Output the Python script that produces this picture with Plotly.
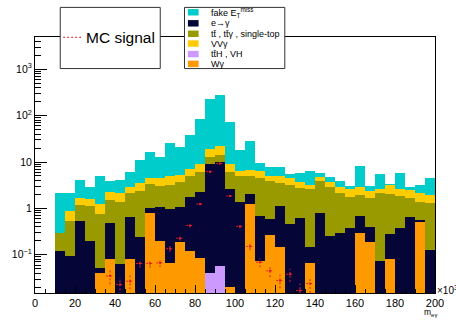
import numpy as np
import plotly.graph_objects as go

# ---------------- data ----------------
bin_low = np.arange(10, 200, 5)          # 38 bins of width 5
bin_width = 5
centers = bin_low + bin_width / 2

# component contributions (stack bottom -> top)
w_gamma = [0, 0, 0, 0, 0.040, 0.082, 0, 0.080, 0, 0.80,
           0.20, 0.065, 0.185, 0.12, 0.085, 0, 0, 0.020, 0, 1.25,
           0.073, 0.266, 0.144, 0, 0, 0.068, 0, 0, 0, 0,
           0.30, 0.19, 0, 0.083, 0, 0, 0.51, 0]
tth_vh = [0, 0, 0, 0, 0, 0, 0, 0, 0, 0,
          0, 0, 0, 0, 0, 0.040, 0.057, 0, 0, 0,
          0, 0, 0, 0, 0, 0, 0, 0, 0, 0,
          0, 0, 0, 0, 0, 0, 0, 0]
e_to_gamma = [0.119, 0.096, 0.53, 0.20, 0.013, 0.398, 0.062, 0.57, 0.245, 0.20,
              0.85, 0.905, 0.865, 1.68, 2.215, 8.96, 10.04, 2.62, 1.38, 0.75,
              0.627, 0.334, 0.996, 0.45, 0.63, 0.080, 0.79, 0.255, 0.30, 0.37,
              0.40, 0.21, 0.073, 0.192, 0.37, 0.65, 0.04, 0.128]
ttbar = [0.181, 0.444, 0.65, 0.95, 0.707, 1.02, 1.278, 1.45, 2.115, 2.43,
         2.05, 2.29, 2.6, 3.08, 3.9, 3.9, 4.2, 3.36, 3.5, 2.9,
         3.8, 3.23, 2.39, 2.81, 2.06, 2.41, 3.04, 2.645, 1.80, 1.42,
         1.20, 1.30, 2.097, 1.795, 1.48, 1.05, 0.79, 1.172]
vv_gamma = [0, 0.34, 0.52, 0.43, 0.51, 0.78, 0.83, 0.80, 1.24, 1.17,
            1.4, 1.84, 1.65, 2.07, 2.9, 6.3, 8.3, 3.0, 1.62, 1.85,
            1.93, 1.27, 1.57, 1.24, 0.96, 0.70, 0.82, 0.80, 0.76, 0.77,
            1.0, 0.66, 0.39, 1.19, 0.71, 0.78, 0.83, 0.64]
fake_met = [1.8, 1.22, 2.35, 1.32, 3.83, 1.62, 1.83, 3.2, 7.4, 11.9,
            8.4, 20.6, 15.5, 31.75, 74.9, 206.8, 253.4, 63.6, 11.8, 21.25,
            3.17, 2.6, 2.6, 1.06, 2.09, 3.04, 1.09, 0.95, 0.97, 0.44,
            5.3, 0.74, 3.0, 0.14, 3.34, 0.38, 1.09, 2.56]

# MC signal points (bins 35-40 ... 135-140)
sig_low = np.arange(35, 140, 5)
sig_val = [0.035, 0.023, 0.027, 0.065, 0.065, 0.067, 0.135, 0.227, 0.43, 1.24,
           6.2, 9.3, 1.85, 0.41, 0.151, 0.069, 0.045, 0.028, 0.038, 0.017, 0.024]
sig_err = [0.012, 0.009, 0.009, 0.012, 0.012, 0.012, 0.02, 0.025, 0.04, 0.08,
           0.25, 0.3, 0.1, 0.04, 0.025, 0.015, 0.012, 0.009, 0.012, 0.007, 0.009]

names = ["Wγ", "tt̄H , VH", "e→γ", "tt̄ , tt̄γ , single-top", "VVγ", "fake E<sub>T</sub><sup>miss</sup>"]
colors = ["rgb(255,153,0)", "rgb(204,153,255)", "rgb(5,5,55)",
          "rgb(153,153,0)", "rgb(255,204,0)", "rgb(0,204,204)"]

x_ticks = list(range(0, 201, 20))
y_ticks = [0.1, 1, 10, 100, 1000]
y_ticktext = ["10<sup>−1</sup>", "1", "10", "10<sup>2</sup>", "10<sup>3</sup>"]

FONT = "Liberation Sans, Arial, Helvetica, sans-serif"
SIG_COLOR = "rgb(225,30,40)"

# ---------------- figure ----------------
comps = np.array([w_gamma, tth_vh, e_to_gamma, ttbar, vv_gamma, fake_met], dtype=float)
cum = np.cumsum(comps, axis=0)

fig = go.Figure()
for k in range(len(comps) - 1, -1, -1):
    yv = np.where(cum[k] > 0, cum[k], np.nan)
    fig.add_trace(go.Bar(x=centers, y=yv, width=bin_width, name=names[k],
                         marker=dict(color=colors[k], line=dict(width=0)),
                         hoverinfo="skip"))

# signal: dotted crosses
hx, hy, vx, vy = [], [], [], []
for lo, v, e in zip(sig_low, sig_val, sig_err):
    hx += [lo + 0.6, lo + bin_width - 0.6, None]
    hy += [v, v, None]
    vx += [lo + bin_width / 2, lo + bin_width / 2, None]
    vy += [v - e, v + e, None]
fig.add_trace(go.Scatter(x=hx, y=hy, mode="lines",
                         line=dict(color=SIG_COLOR, width=1, dash="2px,2px"), hoverinfo="skip"))
fig.add_trace(go.Scatter(x=vx, y=vy, mode="lines",
                         line=dict(color=SIG_COLOR, width=1, dash="2px,2px"), hoverinfo="skip"))
fig.add_trace(go.Scatter(x=sig_low + bin_width / 2, y=sig_val, mode="markers",
                         marker=dict(color=SIG_COLOR, size=2, symbol="square"), hoverinfo="skip"))

L, R, T, B = 31, 443, 37, 299
W_, H_ = 456, 321


def fx(px):
    return (px - L) / (R - L)


def fy(py):
    return (B - py) / (B - T)


minor_y = [m * 10.0 ** d for d in range(-2, 4) for m in range(2, 10)]
minor_y = [v for v in minor_y if 0.015 <= v <= 4950]

fig.update_layout(
    width=W_, height=H_,
    margin=dict(l=L, r=W_ - R, t=T, b=H_ - B, pad=0),
    paper_bgcolor="white", plot_bgcolor="white",
    barmode="overlay", bargap=0, showlegend=False,
    font=dict(family=FONT, color="black"),
    xaxis=dict(range=[0, 200], tickvals=x_ticks, ticks="inside", ticklen=8,
               tickcolor="black", tickwidth=1,
               minor=dict(ticks="inside", ticklen=4, dtick=5, tick0=0, tickcolor="black"),
               showline=True, mirror=True, linecolor="black", linewidth=1,
               showgrid=False, zeroline=False, tickfont=dict(size=11, family=FONT)),
    yaxis=dict(type="log", range=[np.log10(0.015), np.log10(4950)],
               tickvals=y_ticks, ticktext=y_ticktext, ticks="inside", ticklen=12,
               tickcolor="black", tickwidth=1,
               minor=dict(ticks="inside", ticklen=6, tickvals=minor_y, tickcolor="black"),
               showline=True, mirror=True, linecolor="black", linewidth=1,
               showgrid=False, zeroline=False, tickfont=dict(size=10.5, family=FONT)),
)

shapes = []
annotations = []
# legend box 1 (MC signal)
shapes.append(dict(type="rect", xref="paper", yref="paper",
                   x0=fx(57), x1=fx(160), y0=fy(69.3), y1=fy(6.7),
                   line=dict(color="#333333", width=1), fillcolor="white", layer="above"))
shapes.append(dict(type="line", xref="paper", yref="paper",
                   x0=fx(60), x1=fx(79), y0=fy(37.3), y1=fy(37.3),
                   line=dict(color=SIG_COLOR, width=1, dash="2px,2px"), layer="above"))
annotations.append(dict(xref="paper", yref="paper", x=fx(81.5), y=fy(37.5),
                        xanchor="left", yanchor="middle", showarrow=False,
                        text="MC signal", font=dict(size=15.5, family=FONT, color="black")))
# legend box 2 (backgrounds)
shapes.append(dict(type="rect", xref="paper", yref="paper",
                   x0=fx(185), x1=fx(288.3), y0=fy(69.3), y1=fy(6.7),
                   line=dict(color="#333333", width=1), fillcolor="white", layer="above"))
row_y = [11.7, 23.0, 33.7, 43.7, 54.5, 64.5]
legend_order = [5, 2, 3, 4, 1, 0]
for ry, k in zip(row_y, legend_order):
    shapes.append(dict(type="rect", xref="paper", yref="paper",
                       x0=fx(188.5), x1=fx(199.5), y0=fy(ry + 3.3), y1=fy(ry - 3.3),
                       line=dict(width=0), fillcolor=colors[k], layer="above"))
    annotations.append(dict(xref="paper", yref="paper", x=fx(210), y=fy(ry),
                            xanchor="left", yanchor="middle", showarrow=False,
                            text=names[k], font=dict(size=9, family=FONT, color="black")))
# axis title and exponent
annotations.append(dict(xref="paper", yref="paper", x=fx(447), y=fy(318.5),
                        xanchor="right", yanchor="middle", showarrow=False,
                        text="m<sub>eγ</sub>", font=dict(size=8.5, family=FONT, color="black")))
annotations.append(dict(xref="paper", yref="paper", x=fx(443.5), y=fy(296),
                        xanchor="left", yanchor="middle", showarrow=False,
                        text="×10<sup>3</sup>", font=dict(size=10, family=FONT, color="black")))

fig.update_layout(shapes=shapes, annotations=annotations)
fig.write_html("out.html")
